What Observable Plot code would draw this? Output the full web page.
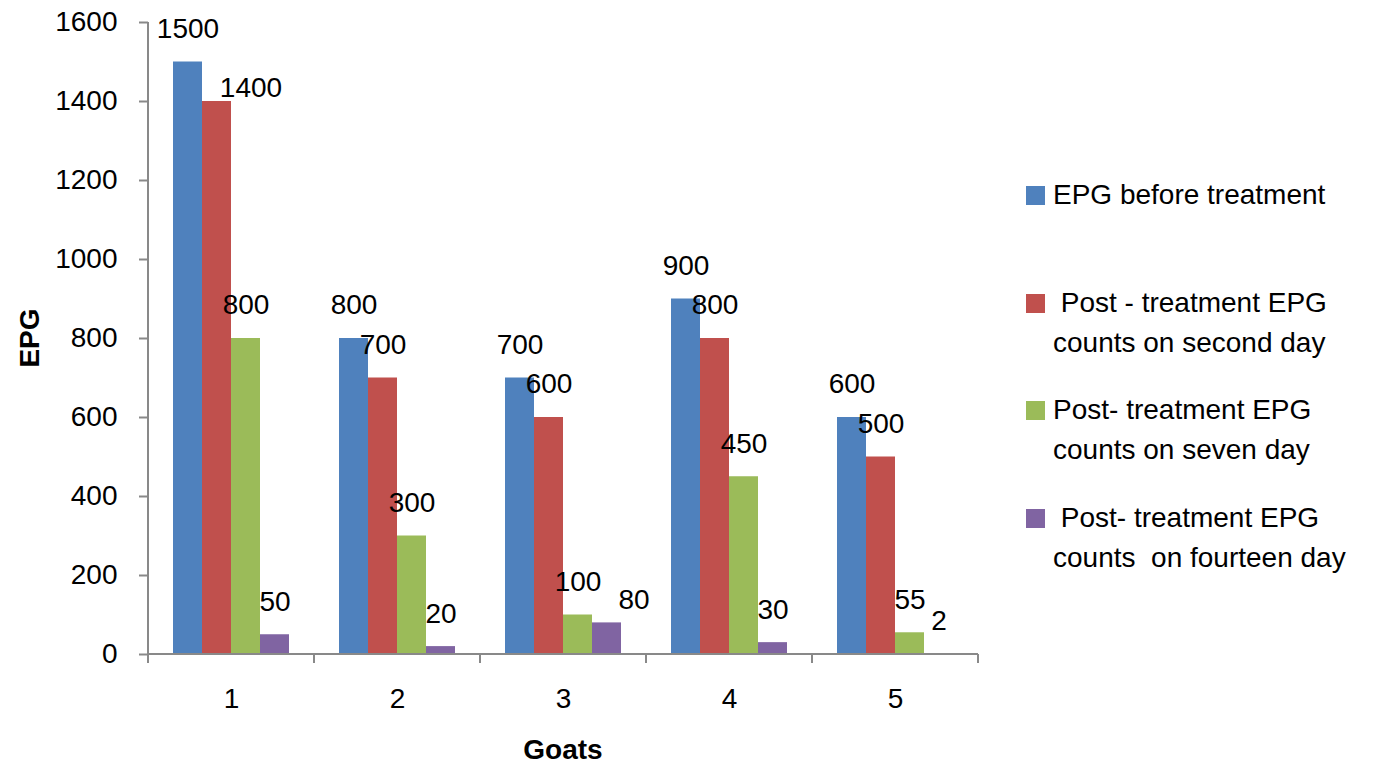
<!DOCTYPE html>
<html>
<head>
<meta charset="utf-8">
<script src="https://cdn.jsdelivr.net/npm/d3@7"></script>
<script src="https://cdn.jsdelivr.net/npm/@observablehq/plot@0.6"></script>
<style>
  html, body { margin: 0; padding: 0; background: #fff; }
  #wrap { position: relative; width: 1379px; height: 768px; overflow: hidden; font-family: "Liberation Sans", Arial, sans-serif; color: #000; }
  #chart { position: absolute; left: 0; top: 0; }
  .ytitle { position: absolute; left: 30px; top: 338px; font-size: 28px; font-weight: bold; transform: translate(-50%, -50%) rotate(-90deg); white-space: nowrap; line-height: 28px; }
  .xtitle { position: absolute; left: 563px; top: 736px; font-size: 28px; font-weight: bold; transform: translateX(-50%); white-space: nowrap; line-height: 28px; }
  #legend { position: absolute; left: 1026px; top: 175px; font-size: 28px; }
  .item { display: flex; align-items: flex-start; height: 107.7px; }
  .sw { width: 19px; height: 19px; margin-top: 11px; margin-right: 8px; flex: none; }
  .lines div { line-height: 40px; white-space: pre; }
</style>
</head>
<body>
<div id="wrap">
  <div id="chart"></div>
  <div class="ytitle">EPG</div>
  <div class="xtitle">Goats</div>
  <div id="legend"></div>
</div>
<script>
const goats = ["1", "2", "3", "4", "5"];
const seriesKeys = ["before", "day2", "day7", "day14"];
const legendLines = [
  ["EPG before treatment"],
  [" Post - treatment EPG", "counts on second day"],
  ["Post- treatment EPG", "counts on seven day"],
  [" Post- treatment EPG", "counts  on fourteen day"]
];
const before = [1500, 800, 700, 900, 600];
const day2 = [1400, 700, 600, 800, 500];
const day7 = [800, 300, 100, 450, 55];
const day14 = [50, 20, 80, 30, 2];
const yTicks = [0, 200, 400, 600, 800, 1000, 1200, 1400, 1600];
const colors = ["#4F81BD", "#C0504D", "#9BBB59", "#8064A2"];

const seriesValues = [before, day2, day7, day14];
const rows = [];
goats.forEach((g, i) => {
  seriesKeys.forEach((s, j) => rows.push({goat: g, series: s, value: seriesValues[j][i]}));
});
// labels that the original nudged sideways to avoid a neighbour
const nudgedA = d => d.goat === "1" && d.series === "day2";
const nudgedB = d => d.goat === "3" && d.series === "day14";
const plain = d => !nudgedA(d) && !nudgedB(d);
const labelOpts = {fx: "goat", x: "series", y: "value", text: d => String(d.value), fontSize: 28, fill: "#000"};

const chart = Plot.plot({
  width: 1010,
  height: 768,
  marginLeft: 148,
  marginRight: 32,
  marginTop: 22,
  marginBottom: 114,
  style: {fontFamily: "Liberation Sans, Arial, sans-serif", fontSize: "28px", color: "#000", background: "transparent", overflow: "visible"},
  fx: {domain: goats, padding: 0, label: null, tickSize: 0, tickPadding: 34, axis: "bottom"},
  x: {domain: seriesKeys, paddingInner: 0, paddingOuter: 0.767, axis: null},
  y: {domain: [0, 1600], label: null},
  color: {domain: seriesKeys, range: colors},
  marks: [
    Plot.barY(rows, {fx: "goat", x: "series", y: "value", fill: "series"}),
    Plot.axisY({ticks: yTicks, tickFormat: d => String(d), tickSize: 9, tickPadding: 22, stroke: "#898989", strokeWidth: 2, fill: "#000", fontSize: 28, label: null}),
    Plot.text(rows.filter(plain), {...labelOpts, dy: -33}),
    Plot.text(rows.filter(nudgedA), {...labelOpts, dx: 34, dy: -13}),
    Plot.text(rows.filter(nudgedB), {...labelOpts, dx: 27, dy: -23})
  ]
});
document.getElementById("chart").appendChild(chart);

// axis lines and group divider ticks, from the plot's own scales
const fx = chart.scale("fx");
const y = chart.scale("y");
const y0 = y.apply(0), yTop = y.apply(1600);
const xs = goats.map(g => fx.apply(g));
const xEnd = fx.apply(goats[goats.length - 1]) + fx.bandwidth;
const g = d3.select(chart).append("g").attr("stroke", "#898989").attr("stroke-width", 2);
g.append("line").attr("x1", xs[0]).attr("x2", xs[0]).attr("y1", yTop).attr("y2", y0);
g.append("line").attr("x1", xs[0]).attr("x2", xEnd).attr("y1", y0).attr("y2", y0);
[...xs, xEnd].forEach(x => g.append("line").attr("x1", x).attr("x2", x).attr("y1", y0).attr("y2", y0 + 9));

// legend
const legend = d3.select("#legend");
legendLines.forEach((lines, i) => {
  const item = legend.append("div").attr("class", "item");
  item.append("div").attr("class", "sw").style("background", colors[i]);
  const l = item.append("div").attr("class", "lines");
  lines.forEach(t => l.append("div").text(t));
});
</script>
</body>
</html>
